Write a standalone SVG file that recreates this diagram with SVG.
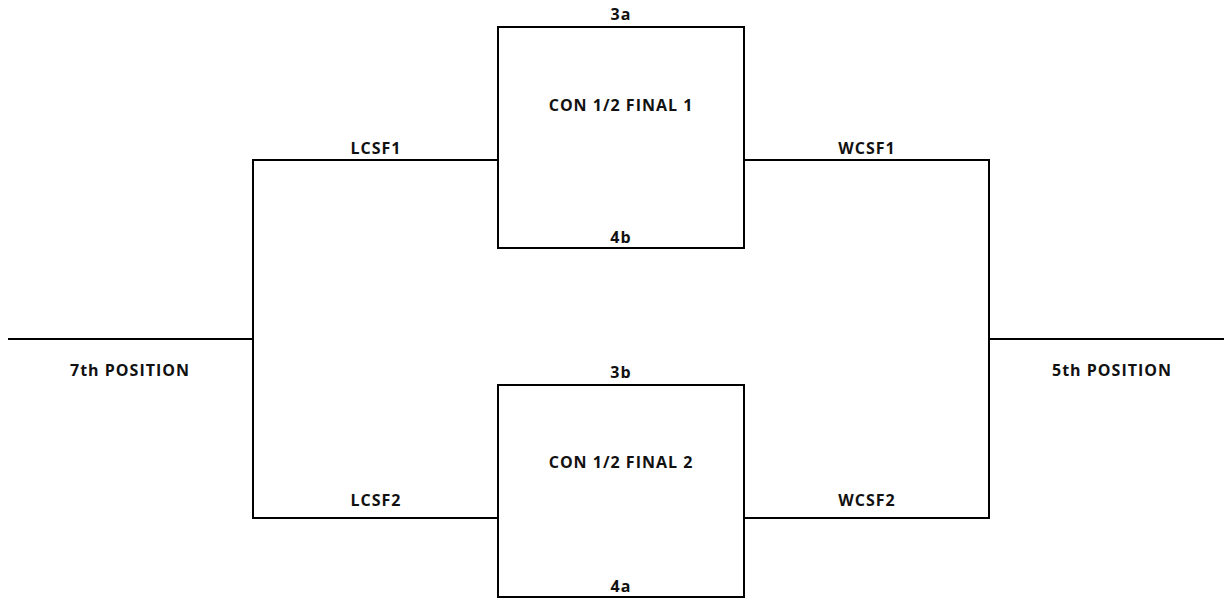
<svg xmlns="http://www.w3.org/2000/svg" width="1225" height="607" viewBox="0 0 1225 607">
<style>
.ln{fill:none;stroke:#000;stroke-width:2}
.box{fill:#fff;stroke:#000;stroke-width:2}
text{font-family:"Open Sans","Liberation Sans",sans-serif;font-weight:bold;font-size:16px;letter-spacing:1px;fill:#111;text-anchor:middle}
</style>
<rect width="1225" height="607" fill="#fff"/>
<g id="connectors">
<polyline class="ln" points="498,160 253,160 253,518 498,518"/>
<line class="ln" x1="8" y1="339" x2="253" y2="339"/>
<polyline class="ln" points="744,160 989,160 989,518 744,518"/>
<line class="ln" x1="989" y1="339" x2="1224" y2="339"/>
<text x="376" y="154">LCSF1</text>
<text x="376" y="506">LCSF2</text>
<text x="867" y="154">WCSF1</text>
<text x="867" y="506">WCSF2</text>
</g>
<g id="semi1">
<rect class="box" x="498" y="27" width="246" height="221"/>
<text x="621" y="20">3a</text>
<text x="621" y="111">CON 1/2 FINAL 1</text>
<text x="621" y="243">4b</text>
</g>
<g id="semi2">
<rect class="box" x="498" y="385" width="246" height="212"/>
<text x="621" y="378">3b</text>
<text x="621" y="468">CON 1/2 FINAL 2</text>
<text x="621" y="592">4a</text>
</g>
<g id="pos7"><text x="130" y="376">7th POSITION</text></g>
<g id="pos5"><text x="1112" y="376">5th POSITION</text></g>
</svg>
